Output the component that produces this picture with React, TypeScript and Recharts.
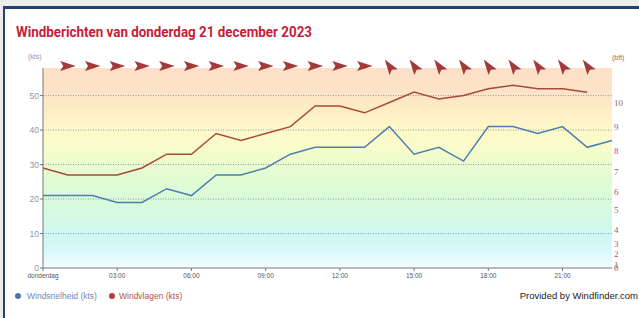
import { ComposedChart, Line, XAxis, YAxis, CartesianGrid } from 'recharts'

// hourly values, donderdag 21 december 2023
const hours = [0, 1, 2, 3, 4, 5, 6, 7, 8, 9, 10, 11, 12, 13, 14, 15, 16, 17, 18, 19, 20, 21, 22, 23]
const windSpeed = [21, 21, 21, 19, 19, 23, 21, 27, 27, 29, 33, 35, 35, 35, 41, 33, 35, 31, 41, 41, 39, 41, 35, 37]
const windGust = [29, 27, 27, 27, 29, 33, 33, 39, 37, 39, 41, 47, 47, 45, 48, 51, 49, 50, 52, 53, 52, 52, 51, null]
// compass bearing the direction arrow points to
const arrowBearing = [null, 90, 90, 90, 90, 90, 90, 90, 90, 90, 90, 90, 90, 90, 325, 325, 325, 325, 325, 325, 325, 325, 325, null]

const timeTicks = [0, 3, 6, 9, 12, 15, 18, 21]
const timeLabels = ['donderdag', '03:00', '06:00', '09:00', '12:00', '15:00', '18:00', '21:00']
const ktsTicks = [0, 10, 20, 30, 40, 50]
const gridLines = [10, 20, 30, 40, 50]
const bftTicks = [0, 1, 4, 7, 11, 17, 22, 28, 34, 41, 48]
const bftLabels = ['0', '1', '2', '3', '4', '5', '6', '7', '8', '9', '10']

const KTS_MAX = 58
const BLUE = '#4d7fae'
const RED = '#a64b3c'

const chartData = hours.map((hour, i) => ({
  hour,
  speed: windSpeed[i],
  gust: windGust[i],
  bearing: arrowBearing[i],
  arrow: arrowBearing[i] == null ? null : KTS_MAX,
}))

const renderArrow = (props: any) => {
  const { cx, cy, index, payload } = props
  if (payload?.bearing == null || cx == null || cy == null) return <g key={index} />
  return (
    <path
      key={index}
      d="M 8 0 L -7.5 -5 L -4.5 0 L -7.5 5 Z"
      transform={`translate(${cx},${cy - 2}) rotate(${payload.bearing - 90})`}
      fill="#a33a3a"
    />
  )
}

export default function App() {
  return (
    <div
      style={{
        position: 'absolute',
        top: 0,
        left: 0,
        width: 639,
        height: 318,
        background: '#ececec',
        overflow: 'hidden',
        fontFamily: '"Liberation Sans", Arial, sans-serif',
      }}
    >
      <svg width={0} height={0} style={{ position: 'absolute' }}>
        <defs>
          <linearGradient id="bgBands" x1="0" y1="0" x2="0" y2="1">
            <stop offset="0" stopColor="#fde0c6" />
            <stop offset="0.13" stopColor="#fde4c6" />
            <stop offset="0.22" stopColor="#fdeec6" />
            <stop offset="0.31" stopColor="#fff9c8" />
            <stop offset="0.4" stopColor="#f8fcca" />
            <stop offset="0.5" stopColor="#e8fbd0" />
            <stop offset="0.62" stopColor="#dcfbd6" />
            <stop offset="0.74" stopColor="#d4fae4" />
            <stop offset="0.84" stopColor="#cef7f3" />
            <stop offset="0.92" stopColor="#daf9fd" />
            <stop offset="1" stopColor="#f4fdff" />
          </linearGradient>
        </defs>
      </svg>

      <div
        style={{
          position: 'absolute',
          left: 3,
          top: 6,
          right: 0,
          bottom: 0,
          background: '#fff',
          borderTop: '3px solid #24416f',
          borderLeft: '2px solid #24416f',
        }}
      />

      <svg width={639} height={50} style={{ position: 'absolute', left: 0, top: 0 }}>
        <text
          x={16}
          y={37}
          fontSize={15.5}
          fontWeight="bold"
          fontFamily="Roboto, sans-serif"
          fill="#c41e3a"
          textLength={296}
          lengthAdjust="spacingAndGlyphs"
        >
          Windberichten van donderdag 21 december 2023
        </text>
      </svg>

      <div style={{ position: 'absolute', left: 28, top: 52, fontSize: 7, lineHeight: '10px', color: '#8a9ab5' }}>
        (kts)
      </div>
      <div style={{ position: 'absolute', left: 612, top: 53, fontSize: 7, lineHeight: '10px', color: '#9a6a7a' }}>
        (bft)
      </div>

      <div style={{ position: 'absolute', left: 0, top: 0 }}>
        <ComposedChart width={639} height={318} data={chartData} margin={{ top: 68, right: 0, bottom: 30, left: 0 }}>
          <CartesianGrid
            yAxisId="kts"
            vertical={false}
            horizontalValues={gridLines}
            fill="url(#bgBands)"
            fillOpacity={1}
            stroke="#8e9aab"
            strokeDasharray="1 1.5"
          />
          <XAxis
            dataKey="hour"
            type="number"
            domain={[0, 23]}
            ticks={timeTicks}
            interval={0}
            tickFormatter={(v) => timeLabels[timeTicks.indexOf(v)]}
            height={20}
            tickSize={3}
            tickMargin={2}
            stroke="#777"
            tick={{ fontSize: 6.5, fill: '#555' }}
          />
          <YAxis
            yAxisId="kts"
            domain={[0, KTS_MAX]}
            ticks={ktsTicks}
            interval={0}
            width={43}
            tickSize={3}
            tickMargin={1}
            stroke="#777"
            tick={{ fontSize: 8.5, fill: '#8797ab' }}
          />
          <YAxis
            yAxisId="bft"
            orientation="right"
            domain={[0, KTS_MAX]}
            ticks={bftTicks}
            interval={0}
            tickFormatter={(v) => bftLabels[bftTicks.indexOf(v)]}
            width={27}
            axisLine={false}
            tickLine={false}
            tickSize={1}
            tickMargin={1}
            tick={{ fontSize: 9, fill: '#9b6070', fontFamily: '"Liberation Serif", serif' }}
          />
          <Line
            yAxisId="kts"
            dataKey="speed"
            stroke={BLUE}
            strokeWidth={1.5}
            dot={false}
            activeDot={false}
            isAnimationActive={false}
          />
          <Line
            yAxisId="kts"
            dataKey="gust"
            stroke={RED}
            strokeWidth={1.5}
            dot={false}
            activeDot={false}
            isAnimationActive={false}
          />
          <Line
            yAxisId="bft"
            dataKey="arrow"
            stroke="none"
            dot={renderArrow}
            activeDot={false}
            legendType="none"
            isAnimationActive={false}
          />
        </ComposedChart>
      </div>

      <div style={{ position: 'absolute', left: 15, top: 293, width: 6, height: 6, borderRadius: 3, background: '#4a78aa' }} />
      <div style={{ position: 'absolute', left: 27, top: 291, fontSize: 8.5, lineHeight: '10px', color: '#6a8bb5' }}>
        Windsnelheid (kts)
      </div>
      <div style={{ position: 'absolute', left: 109, top: 293, width: 6, height: 6, borderRadius: 3, background: '#b0403a' }} />
      <div style={{ position: 'absolute', left: 119, top: 291, fontSize: 8.5, lineHeight: '10px', color: '#b5504a' }}>
        Windvlagen (kts)
      </div>
      <div style={{ position: 'absolute', right: 1, top: 291, fontSize: 9.5, lineHeight: '10px', color: '#222' }}>
        Provided by Windfinder.com
      </div>
    </div>
  )
}
